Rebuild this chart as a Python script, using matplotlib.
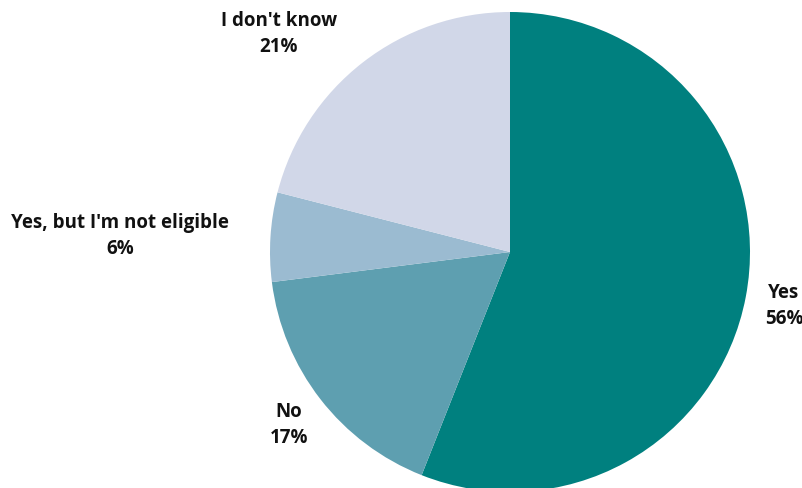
import matplotlib.pyplot as plt

# --- Data ---
categories = ["Yes", "No", "Yes, but I'm not eligible", "I don't know"]
shares = [56, 17, 6, 21]
colors = ["#00807f", "#5e9fb0", "#9bbbd1", "#d1d7e8"]

# label anchor positions in pixel space (x, y from top)
label_pos = [(784, 306), (289, 425), (120, 236), (279, 34)]

W, H = 803, 489
fig = plt.figure(figsize=(W / 100, H / 100), dpi=100)
ax = fig.add_axes([0, 0, 1, 1])

# pie centred at (510, 253) px with radius 240 px
ax.pie(shares, colors=colors, startangle=90, counterclock=False,
       center=(510, H - 253), radius=240,
       wedgeprops=dict(linewidth=0))

for cat, val, (x, y) in zip(categories, shares, label_pos):
    ax.text(x, H - y, f"{cat}\n{val}%", ha="center", va="center",
            multialignment="center", fontsize=13.5, fontweight="bold",
            family=["Open Sans", "DejaVu Sans"], color="#111111",
            linespacing=1.38)

ax.set_xlim(0, W)
ax.set_ylim(0, H)
ax.set_aspect("equal")
ax.axis("off")

fig.savefig("out.png", dpi=100)
